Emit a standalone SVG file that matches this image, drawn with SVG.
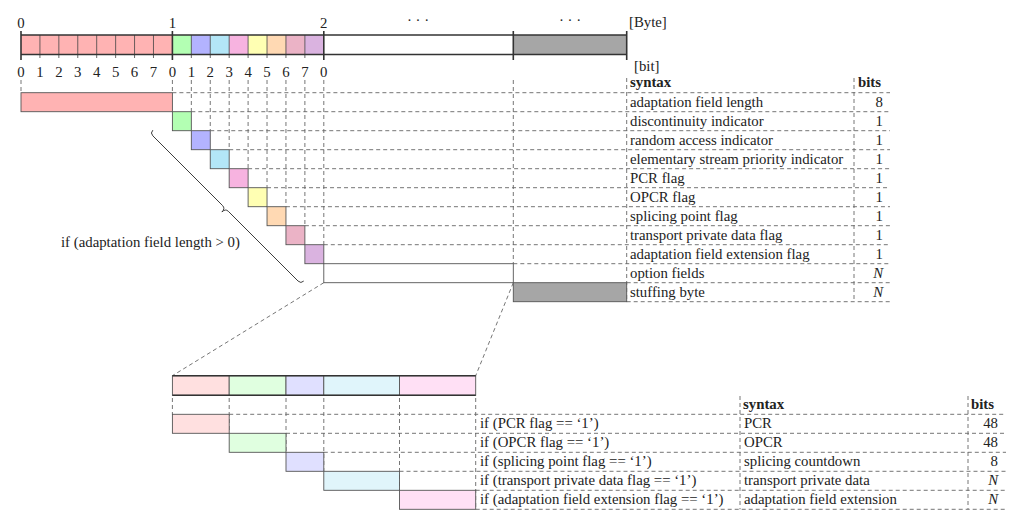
<svg xmlns="http://www.w3.org/2000/svg" width="1024" height="528" viewBox="0 0 1024 528">
<style>
text{font-family:"Liberation Serif","DejaVu Serif",serif;font-size:14.8px;fill:#222}
.b{font-weight:bold}
.r{text-anchor:end}
.c{text-anchor:middle}
.n{font-style:italic}
.box{stroke:#555;stroke-width:0.9}
.dash{stroke:#666;stroke-width:0.9;stroke-dasharray:4 3;fill:none}
.bar{stroke:#333;stroke-width:1.6;fill:none}
.tick{stroke:#333;stroke-width:1.6}
.st{stroke:#444;stroke-width:0.8}
</style>
<rect width="1024" height="528" fill="#fff"/>

<!-- Top byte bar -->
<g id="bytebar">
  <rect x="21" y="35" width="151.4" height="19.5" fill="#ffb3b3"/>
  <rect x="172.4" y="35" width="18.93" height="19.5" fill="#b3ffb3"/>
  <rect x="191.33" y="35" width="18.93" height="19.5" fill="#b3b3ff"/>
  <rect x="210.25" y="35" width="18.93" height="19.5" fill="#b3e6f7"/>
  <rect x="229.18" y="35" width="18.93" height="19.5" fill="#f7b3e0"/>
  <rect x="248.1" y="35" width="18.93" height="19.5" fill="#ffffb3"/>
  <rect x="267.03" y="35" width="18.93" height="19.5" fill="#ffd9b3"/>
  <rect x="285.95" y="35" width="18.93" height="19.5" fill="#ebb3c6"/>
  <rect x="304.88" y="35" width="18.93" height="19.5" fill="#dab3e0"/>
  <rect x="513.3" y="35" width="113.4" height="19.5" fill="#a6a6a6"/>
  <g class="st">
    <line x1="39.93" y1="35" x2="39.93" y2="58"/><line x1="58.85" y1="35" x2="58.85" y2="58"/>
    <line x1="77.78" y1="35" x2="77.78" y2="58"/><line x1="96.7" y1="35" x2="96.7" y2="58"/>
    <line x1="115.63" y1="35" x2="115.63" y2="58"/><line x1="134.55" y1="35" x2="134.55" y2="58"/>
    <line x1="153.48" y1="35" x2="153.48" y2="58"/>
    <line x1="191.33" y1="35" x2="191.33" y2="58"/><line x1="210.25" y1="35" x2="210.25" y2="58"/>
    <line x1="229.18" y1="35" x2="229.18" y2="58"/><line x1="248.1" y1="35" x2="248.1" y2="58"/>
    <line x1="267.03" y1="35" x2="267.03" y2="58"/><line x1="285.95" y1="35" x2="285.95" y2="58"/>
    <line x1="304.88" y1="35" x2="304.88" y2="58"/>
  </g>
  <line class="bar" x1="21" y1="35" x2="626.7" y2="35"/>
  <line class="bar" x1="21" y1="54.5" x2="626.7" y2="54.5"/>
  <line class="tick" x1="21" y1="31" x2="21" y2="60"/>
  <line class="tick" x1="172.4" y1="31" x2="172.4" y2="60"/>
  <line class="tick" x1="323.8" y1="31" x2="323.8" y2="60"/>
  <line class="tick" x1="513.3" y1="31" x2="513.3" y2="60"/>
  <line class="tick" x1="626.7" y1="31" x2="626.7" y2="60"/>
  <text class="c" x="21" y="28">0</text>
  <text class="c" x="172.4" y="28">1</text>
  <text class="c" x="323.8" y="28">2</text>
  <text class="c" x="418" y="25">· · ·</text>
  <text class="c" x="570" y="25">· · ·</text>
  <text x="629" y="27">[Byte]</text>
  <text x="634" y="71">[bit]</text>
  <g class="c">
    <text class="c" x="21" y="77">0</text><text class="c" x="39.93" y="77">1</text>
    <text class="c" x="58.85" y="77">2</text><text class="c" x="77.78" y="77">3</text>
    <text class="c" x="96.7" y="77">4</text><text class="c" x="115.63" y="77">5</text>
    <text class="c" x="134.55" y="77">6</text><text class="c" x="153.48" y="77">7</text>
    <text class="c" x="172.4" y="77">0</text><text class="c" x="191.33" y="77">1</text>
    <text class="c" x="210.25" y="77">2</text><text class="c" x="229.18" y="77">3</text>
    <text class="c" x="248.1" y="77">4</text><text class="c" x="267.03" y="77">5</text>
    <text class="c" x="285.95" y="77">6</text><text class="c" x="304.88" y="77">7</text>
    <text class="c" x="323.8" y="77">0</text>
  </g>
</g>

<!-- Connectors / guide lines -->
<g id="connectors">
  <!-- top verticals -->
  <line class="dash" x1="21" y1="80" x2="21" y2="92.7"/>
  <line class="dash" x1="172.4" y1="80" x2="172.4" y2="92.7"/>
  <line class="dash" x1="191.33" y1="80" x2="191.33" y2="111.7"/>
  <line class="dash" x1="210.25" y1="80" x2="210.25" y2="130.7"/>
  <line class="dash" x1="229.18" y1="80" x2="229.18" y2="149.7"/>
  <line class="dash" x1="248.1" y1="80" x2="248.1" y2="168.7"/>
  <line class="dash" x1="267.03" y1="80" x2="267.03" y2="187.7"/>
  <line class="dash" x1="285.95" y1="80" x2="285.95" y2="206.7"/>
  <line class="dash" x1="304.88" y1="80" x2="304.88" y2="225.7"/>
  <line class="dash" x1="323.8" y1="80" x2="323.8" y2="244.7"/>
  <line class="dash" x1="513.3" y1="80" x2="513.3" y2="263.7"/>
  <line class="dash" x1="626.7" y1="78" x2="626.7" y2="301.7"/>
  <line class="dash" x1="854" y1="78" x2="854" y2="301.7"/>
  <!-- top horizontals -->
  <line class="dash" x1="172.4" y1="92.7" x2="890" y2="92.7"/>
  <line class="dash" x1="191.33" y1="111.7" x2="890" y2="111.7"/>
  <line class="dash" x1="210.25" y1="130.7" x2="890" y2="130.7"/>
  <line class="dash" x1="229.18" y1="149.7" x2="890" y2="149.7"/>
  <line class="dash" x1="248.1" y1="168.7" x2="890" y2="168.7"/>
  <line class="dash" x1="267.03" y1="187.7" x2="890" y2="187.7"/>
  <line class="dash" x1="285.95" y1="206.7" x2="890" y2="206.7"/>
  <line class="dash" x1="304.88" y1="225.7" x2="890" y2="225.7"/>
  <line class="dash" x1="323.8" y1="244.7" x2="890" y2="244.7"/>
  <line class="dash" x1="513.3" y1="263.7" x2="890" y2="263.7"/>
  <line class="dash" x1="626.7" y1="282.7" x2="890" y2="282.7"/>
  <line class="dash" x1="626.7" y1="301.7" x2="890" y2="301.7"/>
  <!-- zoom lines -->
  <line class="dash" x1="323.8" y1="282.7" x2="172.4" y2="375.7"/>
  <line class="dash" x1="513.3" y1="282.7" x2="475.7" y2="375.7"/>
  <!-- bottom verticals -->
  <line class="dash" x1="172.4" y1="398" x2="172.4" y2="414.3"/>
  <line class="dash" x1="229.2" y1="398" x2="229.2" y2="433.3"/>
  <line class="dash" x1="286" y1="398" x2="286" y2="452.3"/>
  <line class="dash" x1="323.8" y1="398" x2="323.8" y2="471.3"/>
  <line class="dash" x1="399.5" y1="398" x2="399.5" y2="490.3"/>
  <line class="dash" x1="475.7" y1="398" x2="475.7" y2="509.3"/>
  <line class="dash" x1="740" y1="396" x2="740" y2="509.3"/>
  <line class="dash" x1="968" y1="396" x2="968" y2="509.3"/>
  <!-- bottom horizontals -->
  <line class="dash" x1="229.2" y1="414.3" x2="1006" y2="414.3"/>
  <line class="dash" x1="286" y1="433.3" x2="1006" y2="433.3"/>
  <line class="dash" x1="323.8" y1="452.3" x2="1006" y2="452.3"/>
  <line class="dash" x1="399.5" y1="471.3" x2="1006" y2="471.3"/>
  <line class="dash" x1="475.7" y1="490.3" x2="1006" y2="490.3"/>
  <line class="dash" x1="475.7" y1="509.3" x2="1006" y2="509.3"/>
</g>

<!-- Top staircase boxes -->
<g id="field-boxes">
  <rect class="box" x="21" y="92.7" width="151.4" height="19" fill="#ffb3b3"/>
  <rect class="box" x="172.4" y="111.7" width="18.93" height="19" fill="#b3ffb3"/>
  <rect class="box" x="191.33" y="130.7" width="18.93" height="19" fill="#b3b3ff"/>
  <rect class="box" x="210.25" y="149.7" width="18.93" height="19" fill="#b3e6f7"/>
  <rect class="box" x="229.18" y="168.7" width="18.93" height="19" fill="#f7b3e0"/>
  <rect class="box" x="248.1" y="187.7" width="18.93" height="19" fill="#ffffb3"/>
  <rect class="box" x="267.03" y="206.7" width="18.93" height="19" fill="#ffd9b3"/>
  <rect class="box" x="285.95" y="225.7" width="18.93" height="19" fill="#ebb3c6"/>
  <rect class="box" x="304.88" y="244.7" width="18.93" height="19" fill="#dab3e0"/>
  <rect class="box" x="323.8" y="263.7" width="189.5" height="19" fill="none"/>
  <rect class="box" x="513.3" y="282.7" width="113.4" height="19" fill="#a6a6a6"/>
</g>

<!-- Brace -->
<g id="brace">
  <path transform="translate(150,133) rotate(45)" d="M0,-4 Q0,0 4,0 L102.7,0 Q106.7,0 106.7,5 Q106.7,0 110.7,0 L209.4,0 Q213.4,0 213.4,-4" fill="none" stroke="#333" stroke-width="0.9"/>
  <text x="61" y="247">if (adaptation field length &gt; 0)</text>
</g>

<!-- Top table -->
<g id="table-top">
  <text class="b" x="630" y="87">syntax</text>
  <text class="b" x="858" y="87">bits</text>
  <text x="630" y="106.7">adaptation field length</text><text class="r" x="883" y="106.7">8</text>
  <text x="630" y="125.7">discontinuity indicator</text><text class="r" x="883" y="125.7">1</text>
  <text x="630" y="144.7">random access indicator</text><text class="r" x="883" y="144.7">1</text>
  <text x="630" y="163.7">elementary stream priority indicator</text><text class="r" x="883" y="163.7">1</text>
  <text x="630" y="182.7">PCR flag</text><text class="r" x="883" y="182.7">1</text>
  <text x="630" y="201.7">OPCR flag</text><text class="r" x="883" y="201.7">1</text>
  <text x="630" y="220.7">splicing point flag</text><text class="r" x="883" y="220.7">1</text>
  <text x="630" y="239.7">transport private data flag</text><text class="r" x="883" y="239.7">1</text>
  <text x="630" y="258.7">adaptation field extension flag</text><text class="r" x="883" y="258.7">1</text>
  <text x="630" y="277.7">option fields</text><text class="r n" x="883" y="277.7">N</text>
  <text x="630" y="296.7">stuffing byte</text><text class="r n" x="883" y="296.7">N</text>
</g>

<!-- Bottom bar -->
<g id="option-bar">
  <rect class="box" x="172.4" y="375.7" width="56.8" height="19.6" fill="#ffe0e0"/>
  <rect class="box" x="229.2" y="375.7" width="56.8" height="19.6" fill="#e0ffe0"/>
  <rect class="box" x="286" y="375.7" width="37.8" height="19.6" fill="#e0e0ff"/>
  <rect class="box" x="323.8" y="375.7" width="75.7" height="19.6" fill="#e0f5fb"/>
  <rect class="box" x="399.5" y="375.7" width="76.2" height="19.6" fill="#ffe0f5"/>
  <line class="bar" x1="172.4" y1="375.7" x2="475.7" y2="375.7" stroke-width="1.2"/>
  <line class="bar" x1="172.4" y1="395.3" x2="475.7" y2="395.3" stroke-width="1.2"/>
</g>

<!-- Bottom staircase boxes -->
<g id="option-boxes">
  <rect class="box" x="172.4" y="414.3" width="56.8" height="19" fill="#ffe0e0"/>
  <rect class="box" x="229.2" y="433.3" width="56.8" height="19" fill="#e0ffe0"/>
  <rect class="box" x="286" y="452.3" width="37.8" height="19" fill="#e0e0ff"/>
  <rect class="box" x="323.8" y="471.3" width="75.7" height="19" fill="#e0f5fb"/>
  <rect class="box" x="399.5" y="490.3" width="76.2" height="19" fill="#ffe0f5"/>
</g>

<!-- Bottom table -->
<g id="table-bottom">
  <text class="b" x="743" y="409">syntax</text>
  <text class="b" x="971" y="409">bits</text>
  <text x="480" y="428.3">if (PCR flag == ‘1’)</text><text x="744" y="428.3">PCR</text><text class="r" x="998" y="428.3">48</text>
  <text x="480" y="447.3">if (OPCR flag == ‘1’)</text><text x="744" y="447.3">OPCR</text><text class="r" x="998" y="447.3">48</text>
  <text x="480" y="466.3">if (splicing point flag == ‘1’)</text><text x="744" y="466.3">splicing countdown</text><text class="r" x="998" y="466.3">8</text>
  <text x="480" y="485.3">if (transport private data flag == ‘1’)</text><text x="744" y="485.3">transport private data</text><text class="r n" x="998" y="485.3">N</text>
  <text x="480" y="504.3">if (adaptation field extension flag == ‘1’)</text><text x="744" y="504.3">adaptation field extension</text><text class="r n" x="998" y="504.3">N</text>
</g>
</svg>
